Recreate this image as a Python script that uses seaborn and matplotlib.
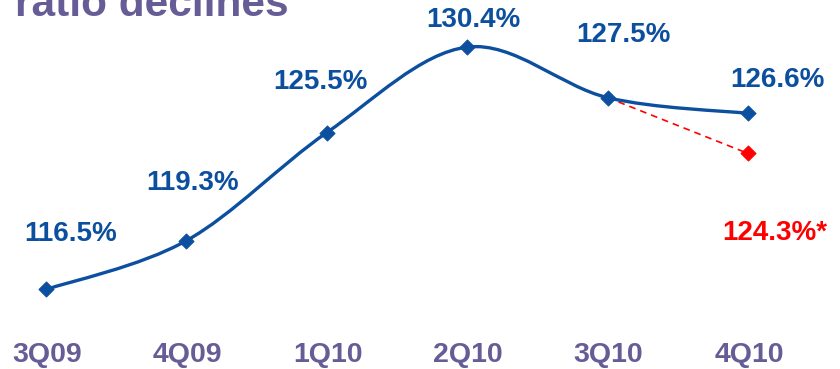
import matplotlib
matplotlib.use("Agg")
import matplotlib.pyplot as plt
from matplotlib.path import Path
from matplotlib.patches import PathPatch
import numpy as np
import pandas as pd
import seaborn as sns

# Quarterly ratio (per cent)
quarters = ["3Q09", "4Q09", "1Q10", "2Q10", "3Q10", "4Q10"]
ratio = [116.5, 119.3, 125.5, 130.4, 127.5, 126.6]
labels = ["116.5%", "119.3%", "125.5%", "130.4%", "127.5%", "126.6%"]

# Adjusted 4Q10 figure, branching off from 3Q10
adj_quarters = ["3Q10", "4Q10"]
adj_ratio = [127.5, 124.3]
adj_label = "124.3%*"

BLUE = "#0b4f9e"
RED = "#ff0000"
PURPLE = "#675d96"

sns.set_theme(style="white")
plt.rcParams["font.family"] = ["Liberation Sans", "DejaVu Sans"]

W, H = 840, 369
fig = plt.figure(figsize=(W / 100, H / 100), dpi=100)
ax = fig.add_axes([0, 0, 1, 1])
ax.set_axis_off()

pos = {q: i for i, q in enumerate(quarters)}
df = pd.DataFrame({"x": [pos[q] for q in quarters], "ratio": ratio})
adj = pd.DataFrame({"x": [pos[q] for q in adj_quarters], "ratio": adj_ratio})

ax.set_xlim(-0.328, 5.655)
ax.set_ylim(111.94, 133.10)

# Smoothed main line (Catmull-Rom curve through the quarterly values)
pts = df[["x", "ratio"]].to_numpy(dtype=float)
ext = np.vstack([pts[0], pts, pts[-1]])
verts = [tuple(pts[0])]
codes = [Path.MOVETO]
for i in range(1, len(ext) - 2):
    p0, p1, p2, p3 = ext[i - 1], ext[i], ext[i + 1], ext[i + 2]
    c1 = p1 + (p2 - p0) / 6.0
    c2 = p2 - (p3 - p1) / 6.0
    verts += [tuple(c1), tuple(c2), tuple(p2)]
    codes += [Path.CURVE4] * 3
ax.add_patch(PathPatch(Path(verts, codes), facecolor="none", edgecolor=BLUE,
                       lw=2.4, capstyle="round", joinstyle="round", zorder=2))

# Adjusted branch
sns.lineplot(data=adj, x="x", y="ratio", ax=ax, color=RED, lw=1.2,
             linestyle=(0, (4, 3)), zorder=1, legend=False)
sns.scatterplot(data=adj.iloc[[1]], x="x", y="ratio", ax=ax, color=RED,
                marker="D", s=60, edgecolor=RED, zorder=3, legend=False)

sns.scatterplot(data=df, x="x", y="ratio", ax=ax, color=BLUE, marker="D",
                s=60, edgecolor=BLUE, zorder=3, legend=False)
ax.set_axis_off()

# Value labels (pixel positions of label centres)
label_px = [(71, 234), (193, 183), (320, 82), (473, 20), (623, 35), (777, 80)]
for (i, v), lab, (px, py) in zip(enumerate(ratio), labels, label_px):
    ax.annotate(lab, xy=(i, v), xytext=(px, H - py), textcoords="figure pixels",
                ha="center", va="center", fontsize=20, fontweight="bold",
                color=BLUE)
ax.annotate(adj_label, xy=(pos["4Q10"], adj_ratio[1]), xytext=(775, H - 233),
            textcoords="figure pixels", ha="center", va="center",
            fontsize=20, fontweight="bold", color=RED)

# Category labels along the bottom
for q in quarters:
    ax.annotate(q, xy=(pos[q], 0), xycoords=("data", "axes fraction"),
                xytext=(1, 7), textcoords="offset pixels", ha="center",
                va="baseline", fontsize=20.5, fontweight="bold", color=PURPLE)

# Title, partly running off the top edge
fig.text(15 / W, 1 - 16 / H, "ratio declines", ha="left", va="baseline",
         fontsize=30.5, fontweight="bold", color=PURPLE)

fig.savefig("out.png", dpi=100)
